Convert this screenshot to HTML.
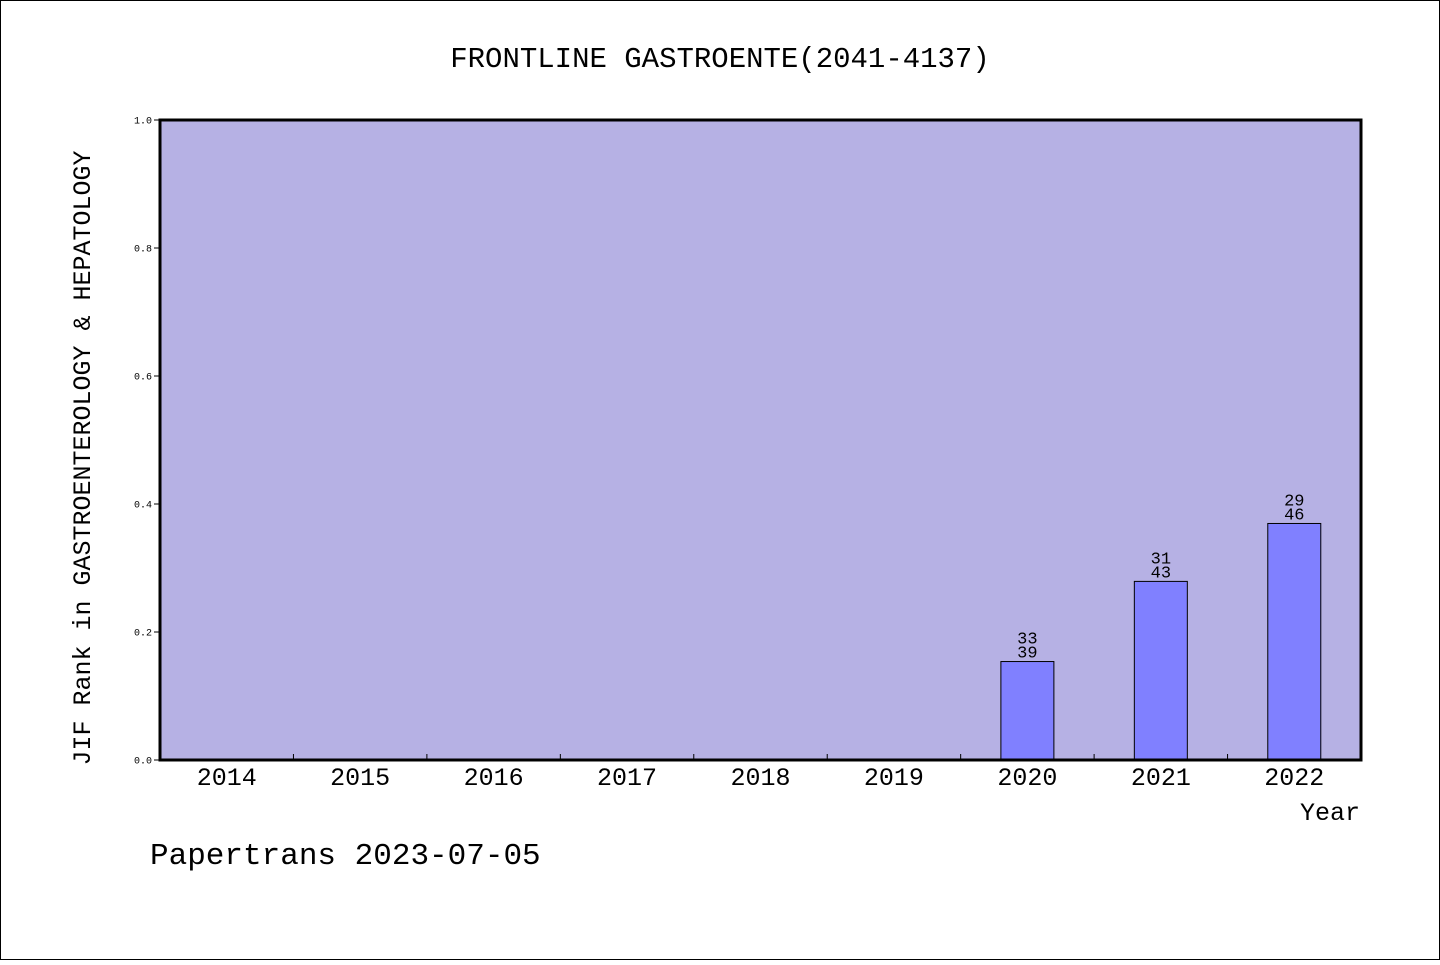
<!DOCTYPE html>
<html><head><meta charset="utf-8"><style>
body{margin:0;background:#fff;}
svg text{font-family:"WenQuanYi Zen Hei","Liberation Mono",monospace;fill:#000;}
</style></head><body>
<svg id="chart" width="1440" height="960" xmlns="http://www.w3.org/2000/svg">
<rect x="0.5" y="0.5" width="1439" height="959" fill="#fff" stroke="#000" stroke-width="1"/>
<text x="720" y="67" font-size="29" text-anchor="middle">FRONTLINE GASTROENTE(2041-4137)</text>
<rect x="160" y="120" width="1201" height="640" fill="#b6b1e4"/>
<g id="bars"></g>
<g id="axes"></g>
<rect x="160" y="120" width="1201" height="640" fill="none" stroke="#000" stroke-width="3"/>
<text transform="translate(90,458) rotate(-90)" font-size="25" text-anchor="middle">JIF Rank in GASTROENTEROLOGY &amp; HEPATOLOGY</text>
<text x="1360" y="820" font-size="25" text-anchor="end">Year</text>
<text x="150" y="864" font-size="31">Papertrans 2023-07-05</text>
</svg>
<script>
const years=["2014","2015","2016","2017","2018","2019","2020","2021","2022"];
const ranks=[null,null,null,null,null,null,33,31,29];
const totals=[null,null,null,null,null,null,39,43,46];
const yTicks=[0,0.2,0.4,0.6,0.8,1.0];
const yTickLabels=["0.0","0.2","0.4","0.6","0.8","1.0"];
const X0=160,X1=1361,Y0=760,Y1=120;
const ns="http://www.w3.org/2000/svg";
const bw=(X1-X0)/years.length;
const xc=i=>X0+bw*(i+0.5);
const ys=v=>Y0-(Y0-Y1)*v;
function mk(t,a,p){const e=document.createElementNS(ns,t);for(const k in a)e.setAttribute(k,a[k]);p.appendChild(e);return e;}
const gb=document.getElementById('bars'),ga=document.getElementById('axes');
years.forEach((y,i)=>{
  if(ranks[i]!=null){
    const v=(totals[i]-ranks[i])/totals[i];
    const r=mk('rect',{x:xc(i)-26.5,y:ys(v),width:53,height:Y0-ys(v),fill:'#8080ff',stroke:'#000','stroke-width':1},gb);
    
    
    const t1=mk('text',{x:xc(i),y:ys(v)-18,'font-size':17,'text-anchor':'middle'},gb);t1.textContent=ranks[i];
    
    
    const t2=mk('text',{x:xc(i),y:ys(v)-4,'font-size':17,'text-anchor':'middle'},gb);t2.textContent=totals[i];
    
    
  }
  const lb=mk('text',{x:xc(i),y:785,'font-size':25,'text-anchor':'middle'},ga);lb.textContent=y;
  
  
  if(i>0){const tk=mk('line',{x1:X0+bw*i,x2:X0+bw*i,y1:Y0,y2:Y0-6,stroke:'#000','stroke-width':1},ga);
  
  }
});
yTicks.forEach((v,i)=>{
  const tk=mk('line',{x1:X0-6,x2:X0,y1:ys(v),y2:ys(v),stroke:'#000','stroke-width':1},ga);
  
  
  const t=mk('text',{x:X0-8,y:ys(v)+3.5,'font-size':10,'text-anchor':'end'},ga);t.textContent=yTickLabels[i];
  
  
});
</script>
</body></html>
